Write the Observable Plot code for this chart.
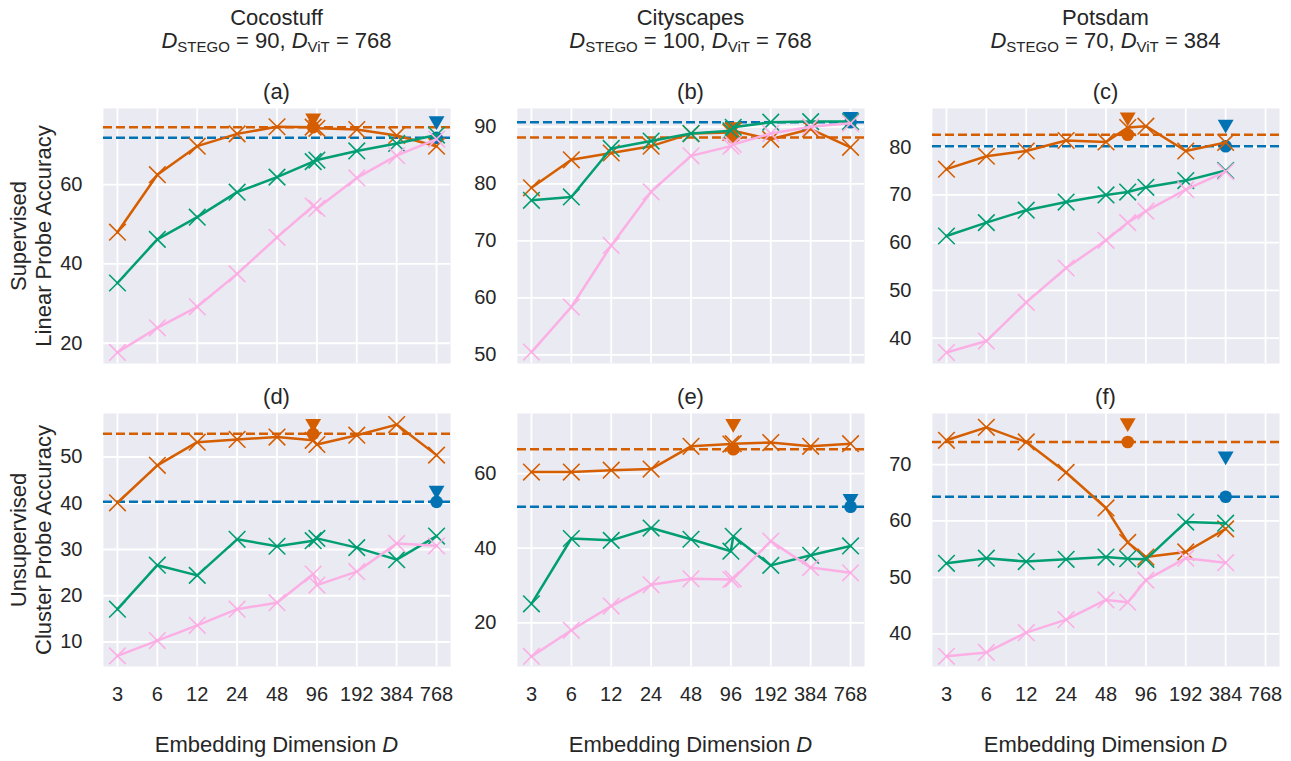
<!DOCTYPE html>
<html>
<head>
<meta charset="utf-8">
<script src="https://cdn.jsdelivr.net/npm/d3@7"></script>
<script src="https://cdn.jsdelivr.net/npm/@observablehq/plot@0.6"></script>
<style>
  html, body { margin: 0; padding: 0; background: #ffffff; }
  #fig { position: relative; width: 1291px; height: 761px; font-family: "Liberation Sans", Arial, sans-serif; color: #262626; }
  .t { position: absolute; transform: translate(-50%, -50%); white-space: nowrap; font-size: 22px; line-height: 1; }
  .rot { transform: translate(-50%, -50%) rotate(-90deg); }
  .p { position: absolute; }
  sub { font-size: 15px; vertical-align: -4px; line-height: 0; }
</style>
</head>
<body>
<div id="fig"></div>
<script>
// ---------- data ----------
const xTickLabels = [3, 6, 12, 24, 48, 96, 192, 384, 768];

const dimsCoco = [3, 6, 12, 24, 48, 90, 96, 192, 384, 768];
const dimsCity = [3, 6, 12, 24, 48, 96, 100, 192, 384, 768];
const dimsPots = [3, 6, 12, 24, 48, 70, 96, 192, 384];

const datasetNames = ["Cocostuff", "Cityscapes", "Potsdam"];
const dStego = [90, 100, 70];
const dVit = [768, 768, 384];
const panelLetters = ["(a)", "(b)", "(c)", "(d)", "(e)", "(f)"];
const rowLabels = [["Supervised", "Linear Probe Accuracy"], ["Unsupervised", "Cluster Probe Accuracy"]];

// (a) Cocostuff, supervised linear probe
const cocoSupOrange = [48.0, 62.5, 69.7, 72.8, 74.6, 74.5, 74.2, 73.9, 72.4, 69.7];
const cocoSupGreen  = [35.2, 46.2, 51.8, 58.1, 61.9, 65.8, 66.2, 68.5, 70.4, 72.5];
const cocoSupPink   = [17.7, 23.9, 29.2, 37.5, 46.7, 54.6, 54.0, 61.7, 67.3, 71.5];
// (b) Cityscapes, supervised linear probe
const citySupOrange = [79.3, 84.2, 85.4, 86.6, 88.8, 89.0, 89.3, 87.8, 89.6, 86.4];
const citySupGreen  = [77.1, 77.7, 86.2, 87.5, 88.8, 89.3, 89.9, 90.8, 90.9, 90.9];
const citySupPink   = [50.5, 58.4, 69.2, 78.6, 84.9, 86.6, 86.9, 88.8, 90.0, 90.6];
// (c) Potsdam, supervised linear probe
const potsSupOrange = [75.4, 78.1, 79.2, 81.4, 81.1, 84.1, 84.4, 79.2, 81.0];
const potsSupGreen  = [61.4, 64.2, 66.8, 68.5, 70.0, 70.6, 71.6, 73.0, 75.1];
const potsSupPink   = [37.0, 39.4, 47.5, 54.7, 60.5, 64.2, 66.6, 71.1, 74.9];
// (d) Cocostuff, unsupervised cluster probe
const cocoUnsOrange = [40.1, 48.2, 53.2, 53.8, 54.3, 53.6, 52.7, 54.7, 57.0, 50.4];
const cocoUnsGreen  = [17.1, 26.6, 24.4, 32.2, 30.7, 31.9, 32.4, 30.4, 27.8, 32.9];
const cocoUnsPink   = [7.0, 10.3, 13.6, 17.1, 18.5, 24.7, 22.3, 25.2, 31.3, 30.8];
// (e) Cityscapes, unsupervised cluster probe
const cityUnsOrange = [60.4, 60.4, 60.9, 61.2, 67.3, 67.9, 68.0, 68.3, 67.3, 68.0];
const cityUnsGreen  = [25.1, 42.6, 42.1, 45.4, 42.4, 39.2, 43.2, 35.4, 38.1, 40.6];
const cityUnsPink   = [11.0, 18.0, 24.5, 30.2, 31.8, 31.6, 31.8, 41.9, 34.8, 33.4];
// (f) Potsdam, unsupervised cluster probe
const potsUnsOrange = [74.3, 76.6, 74.0, 68.6, 62.3, 56.2, 53.6, 54.5, 58.6];
const potsUnsGreen  = [52.5, 53.4, 52.8, 53.2, 53.6, 53.3, 53.2, 59.8, 59.6];
const potsUnsPink   = [36.0, 36.7, 40.2, 42.5, 46.0, 45.6, 49.5, 53.4, 52.6];

// reference levels: [STEGO baseline (dashed + circle), STEGO triangle, ViT baseline (dashed + circle), ViT triangle]
const refSup = [[74.5, 76.8, 71.8, 76.1], [88.1, 90.0, 90.8, 91.8], [82.6, 86.3, 80.2, 84.8]];
const refUns = [[55.0, 57.2, 40.3, 42.8], [66.5, 73.4, 51.1, 53.3], [74.0, 77.4, 64.3, 71.5]];

const yDomains = [[14.9, 79.2], [48.5, 93.2], [34.7, 88.1], [4.7, 59.4], [8.3, 76.1], [34.2, 79.05]];
const yTickLists = [[20, 40, 60], [50, 60, 70, 80, 90], [40, 50, 60, 70, 80], [10, 20, 30, 40, 50], [20, 40, 60], [40, 50, 60, 70]];

// ---------- styling ----------
const C_ORANGE = "#d55e00", C_GREEN = "#029e73", C_PINK = "#fbafe4", C_BLUE = "#0173b2";
const colLeft = [103, 517, 932];
const panelW = 347;
const rowTop = [108, 413];
const rowH = [255, 253];
const ML = 70, MR = 10, MT = 6;

const panels = [
  {dims: dimsCoco, s: [cocoSupOrange, cocoSupGreen, cocoSupPink], ref: refSup[0]},
  {dims: dimsCity, s: [citySupOrange, citySupGreen, citySupPink], ref: refSup[1]},
  {dims: dimsPots, s: [potsSupOrange, potsSupGreen, potsSupPink], ref: refSup[2]},
  {dims: dimsCoco, s: [cocoUnsOrange, cocoUnsGreen, cocoUnsPink], ref: refUns[0]},
  {dims: dimsCity, s: [cityUnsOrange, cityUnsGreen, cityUnsPink], ref: refUns[1]},
  {dims: dimsPots, s: [potsUnsOrange, potsUnsGreen, potsUnsPink], ref: refUns[2]}
];

const fig = document.getElementById("fig");
function addText(html, x, y, cls) {
  const d = document.createElement("div");
  d.className = "t" + (cls ? " " + cls : "");
  d.style.left = x + "px";
  d.style.top = y + "px";
  d.innerHTML = html;
  fig.appendChild(d);
}

const seriesColors = [C_ORANGE, C_GREEN, C_PINK];

panels.forEach((p, i) => {
  const col = i % 3, row = Math.floor(i / 3);
  const showX = row === 1;
  const MB = showX ? 60 : 6;
  const H = rowH[row] + MT + MB;
  const c = col;
  const series = p.s.map((vals, k) => vals.map((v, j) => ({x: p.dims[j], y: v, k})));
  const refMarks = [
    {x: dStego[c], y: p.ref[0], color: C_ORANGE, kind: "circle"},
    {x: dStego[c], y: p.ref[1], color: C_ORANGE, kind: "tri"},
    {x: dVit[c], y: p.ref[2], color: C_BLUE, kind: "circle"},
    {x: dVit[c], y: p.ref[3], color: C_BLUE, kind: "tri"}
  ];
  const marks = [
    Plot.frame({fill: "#eaeaf2", stroke: "none"}),
    Plot.gridX(xTickLabels, {stroke: "#ffffff", strokeOpacity: 1, strokeWidth: 1.8}),
    Plot.gridY(yTickLists[i], {stroke: "#ffffff", strokeOpacity: 1, strokeWidth: 1.8}),
    Plot.ruleY([p.ref[0]], {stroke: C_ORANGE, strokeWidth: 2.5, strokeDasharray: "9,4"}),
    Plot.ruleY([p.ref[2]], {stroke: C_BLUE, strokeWidth: 2.5, strokeDasharray: "9,4"}),
    Plot.dot(refMarks.filter(d => d.kind === "circle"), {x: "x", y: "y", fill: "color", r: 6.3, symbol: "circle"}),
    Plot.dot(refMarks.filter(d => d.kind === "tri"), {x: "x", y: "y", fill: "color", r: 5.9, symbol: "triangle", rotate: 180})
  ];
  series.forEach((data, k) => {
    marks.push(Plot.line(data, {x: "x", y: "y", stroke: seriesColors[k], strokeWidth: 2.5}));
    marks.push(Plot.dot(data, {x: "x", y: "y", stroke: seriesColors[k], symbol: "times", r: 7.6, strokeWidth: 1.6}));
  });
  const chart = Plot.plot({
    width: panelW + ML + MR,
    height: H,
    marginLeft: ML, marginRight: MR, marginTop: MT, marginBottom: MB,
    style: {fontFamily: "'Liberation Sans', Arial, sans-serif", fontSize: "20px", color: "#262626", background: "transparent", overflow: "visible"},
    x: {type: "log", base: 2, domain: [3 * Math.pow(2, -0.35), 768 * Math.pow(2, 0.35)], ticks: xTickLabels, tickFormat: d => String(d), tickSize: 0, tickPadding: 20, label: null, axis: showX ? "bottom" : null},
    y: {domain: yDomains[i], ticks: yTickLists[i], tickSize: 0, tickPadding: 21, label: null},
    marks
  });
  const wrap = document.createElement("div");
  wrap.className = "p";
  wrap.style.left = (colLeft[col] - ML) + "px";
  wrap.style.top = (rowTop[row] - MT) + "px";
  wrap.appendChild(chart);
  fig.appendChild(wrap);

  const cx = colLeft[col] + panelW / 2;
  addText(panelLetters[i], cx, rowTop[row] - 16);
});

// column headers
datasetNames.forEach((name, c) => {
  const cx = colLeft[c] + panelW / 2;
  addText(name, cx, 18);
  addText(`<i>D</i><sub>STEGO</sub> = ${dStego[c]}, <i>D</i><sub>ViT</sub> = ${dVit[c]}`, cx, 41);
  addText(`Embedding Dimension <i>D</i>`, cx, 745);
});

// row labels
rowLabels.forEach((lines, r) => {
  const cy = rowTop[r] + rowH[r] / 2;
  addText(lines[0], 19, cy, "rot");
  addText(lines[1], 44, cy, "rot");
});
</script>
</body>
</html>
